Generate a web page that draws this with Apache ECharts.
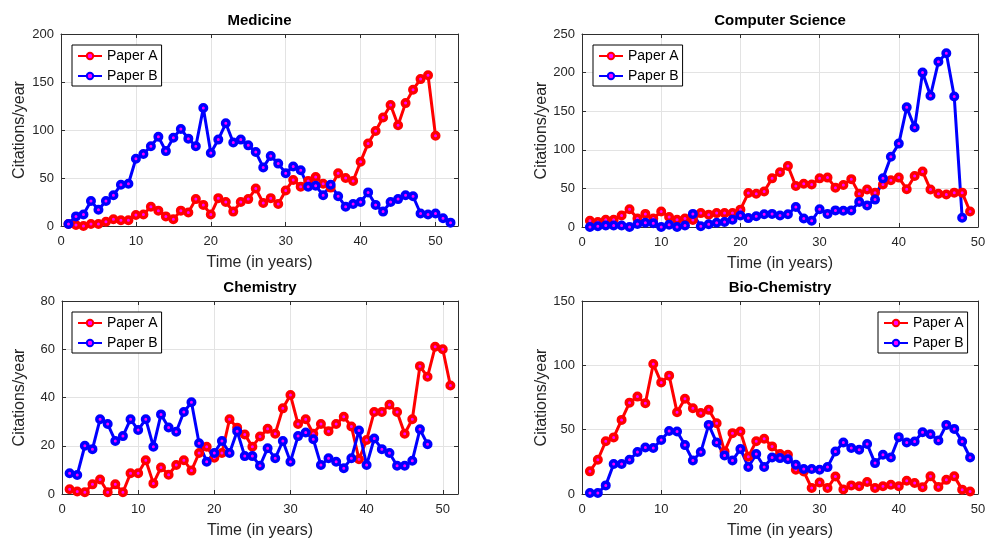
<!DOCTYPE html>
<html>
<head>
<meta charset="utf-8">
<script src="https://cdn.jsdelivr.net/npm/echarts@6/dist/echarts.min.js"></script>
<style>
html,body{margin:0;padding:0;background:#fff;}
#c{width:989px;height:540px;}
</style>
</head>
<body>
<div id="c"></div>
<script>
// ---- data (values per year, starting at year 1) ----
const medA = [2,1,0,2,2,4.5,7,6,6,11.5,12,20,16,10,7,16,14,28,22,12,29,25,15,25,28,39,24,29,23,37,48,41,47,51,44,40,55,50,47,67,86,99,113,126,105,128,142,153,157,94];
const medB = [2,10,12,26,17,26,32,43,44,70,75,83,93,78,92,101,91,83,123,76,90,107,87,90,84,77,61,73,65,55,62,58,41,42,32,43,31,20,23,25,35,22,15,25,28,32,31,13,12,13,8,3.5];
const csA = [8,6.5,9.5,9.5,15,23,11,17,11,20,13,9.5,11,9,18,16,18,18,18,22.5,44,43,46,63,71,79,53,56,55,63,64,51,54.5,62,43,48.5,44.5,55,60.5,64,49,66,72,48.5,43,42,44.5,44.5,20];
const csB = [0,1,2,2,2,0,4,5.5,5,0,3,0,2,17,1,3.5,5.5,6.5,9.5,15,11.5,14,16.5,17,15,16.5,26,11,8,23,17,21.5,21,21.5,32.5,28,35.5,63,91,108,155,129,200,170,214,225,169,12];
const chemA = [2,1,0.7,4,6,0.7,4,0.7,8.6,8.6,14,4.4,11,8,12,14,9.7,17,19.6,15,17,31,27.5,24.7,19.6,23.8,27,25,35.5,41,29,31,25,29,26,29,32,28,14.4,22.4,34,34,37,34,25,31,53,48.6,61,60,45];
const chemB = [8.6,7.9,20,18.6,31,29,22,24,31,26.5,31,19.6,33,27.6,25.8,34,38,21,13.4,17,22,17,26,15.7,15.7,11.7,19,14.8,22,13.4,24,25.5,22.7,12,14.8,13.4,10.7,14.8,26.3,12,23,18.6,17,11.7,11.7,13.8,26.8,20.6];
const bioA = [17.6,26.6,41,44,57.6,71,75.7,70.5,101,86.6,92,63.6,74,66.7,63,65.4,55,33,47.3,48.6,29,41,43,37,31,30.5,18.8,17.5,4.6,9,4.6,13.6,3.5,6.7,6,9.3,4.7,6,7.2,6,10.3,8.5,5.2,13.7,5.4,11,13.7,3.4,2];
const bioB = [0.8,0.8,6.7,23.3,23.3,26.6,32.6,36.2,35.7,42,49,48.6,38,26,32.6,53.7,40,30,26,35,21,31,21,28.4,27.9,27,22.7,19.4,19.4,18.8,20.9,33,40,35.7,34.4,38.8,24,30.5,28.4,44.2,40,40.8,48,46.5,41.6,53.7,50.6,40.8,28.4];

const titles = ['Medicine','Computer Science','Chemistry','Bio-Chemistry'];
const xMax = [53, 50, 52, 50];
const yMax = [200, 250, 80, 150];
const yInterval = [50, 50, 20, 50];
const seriesA = [medA, csA, chemA, bioA];
const seriesB = [medB, csB, chemB, bioB];
const nameA = 'Paper A', nameB = 'Paper B';
const xLabel = 'Time (in years)', yLabel = 'Citations/year';

// ---- layout ----
const grids = [
  {left: 61, top: 34, width: 397, height: 192},
  {left: 582, top: 34, width: 396, height: 193},
  {left: 62, top: 301, width: 396, height: 193},
  {left: 582, top: 301, width: 396, height: 193}
];
const legendPos = [
  {left: 72, top: 45},
  {left: 593, top: 45},
  {left: 72, top: 312},
  {left: 878, top: 312}
];
const yNameGap = [33, 32, 34, 32];
const FONT = '"Liberation Sans", Arial, Helvetica, sans-serif';
const AX = '#262626';
const AXLINE = '#2e2e2e';

const toPairs = arr => arr.map((v, i) => [i + 1, v]);

const xAxes = [], yAxes = [], series = [], legends = [], graphics = [];
grids.forEach((g, i) => {
  const common = {gridIndex: i, type: 'value', min: 0};
  xAxes.push(Object.assign({}, common, {
    position: 'bottom', max: xMax[i], interval: 10,
    axisLine: {show: true, onZero: false, lineStyle: {color: AXLINE, width: 1}},
    axisTick: {show: true, inside: true, length: 4, lineStyle: {color: AXLINE}},
    axisLabel: {color: AX, fontSize: 13, fontFamily: FONT, margin: 9,
      formatter: v => (v % 10 === 0 ? String(v) : '')},
    splitLine: {show: true, lineStyle: {color: '#e3e3e3', width: 1}},
    name: xLabel, nameLocation: 'middle', nameGap: 29,
    nameTextStyle: {color: AX, fontSize: 16, fontFamily: FONT}
  }));
  xAxes.push(Object.assign({}, common, {
    position: 'top', max: xMax[i], interval: 10,
    axisLine: {show: true, onZero: false, lineStyle: {color: AXLINE, width: 1}},
    axisTick: {show: true, inside: true, length: 4, lineStyle: {color: AXLINE}},
    axisLabel: {show: false}, splitLine: {show: false}
  }));
  yAxes.push(Object.assign({}, common, {
    position: 'left', max: yMax[i], interval: yInterval[i],
    axisLine: {show: true, onZero: false, lineStyle: {color: AXLINE, width: 1}},
    axisTick: {show: true, inside: true, length: 4, lineStyle: {color: AXLINE}},
    axisLabel: {color: AX, fontSize: 13, fontFamily: FONT, margin: 7},
    splitLine: {show: true, lineStyle: {color: '#e3e3e3', width: 1}},
    name: yLabel, nameLocation: 'middle', nameGap: yNameGap[i],
    nameTextStyle: {color: AX, fontSize: 16, fontFamily: FONT}
  }));
  yAxes.push(Object.assign({}, common, {
    position: 'right', max: yMax[i], interval: yInterval[i],
    axisLine: {show: true, onZero: false, lineStyle: {color: AXLINE, width: 1}},
    axisTick: {show: true, inside: true, length: 4, lineStyle: {color: AXLINE}},
    axisLabel: {show: false}, splitLine: {show: false}
  }));

  [[nameA, seriesA[i], '#ff0000'], [nameB, seriesB[i], '#0000ff']].forEach(([nm, arr, col]) => {
    series.push({
      type: 'line', name: nm, xAxisIndex: 2 * i, yAxisIndex: 2 * i,
      data: toPairs(arr), symbol: 'circle', symbolSize: 6.5, showAllSymbol: true,
      lineStyle: {color: col, width: 3},
      itemStyle: {color: '#ff00ff', borderColor: col, borderWidth: 3.5},
      emphasis: {disabled: true}, animation: false
    });
  });

  legends.push({
    left: legendPos[i].left, top: legendPos[i].top, orient: 'vertical',
    data: [nameA, nameB], itemWidth: 24, itemHeight: 8, itemGap: 6,
    padding: [4, 4, 3, 5], borderColor: '#000', borderWidth: 1, backgroundColor: '#fff',
    textStyle: {color: '#000', fontSize: 14, fontFamily: FONT},
    selectedMode: false
  });

  graphics.push({
    type: 'text', x: g.left + g.width / 2, y: g.top - 13,
    style: {text: titles[i], fill: '#000', font: 'bold 15px ' + FONT,
      textAlign: 'center', textVerticalAlign: 'middle'}
  });
});

const chart = echarts.init(document.getElementById('c'), null, {renderer: 'canvas'});
chart.setOption({
  animation: false,
  backgroundColor: '#fff',
  grid: grids.map(g => Object.assign({containLabel: false}, g)),
  xAxis: xAxes, yAxis: yAxes, series: series, legend: legends,
  graphic: graphics
});
</script>
</body>
</html>
